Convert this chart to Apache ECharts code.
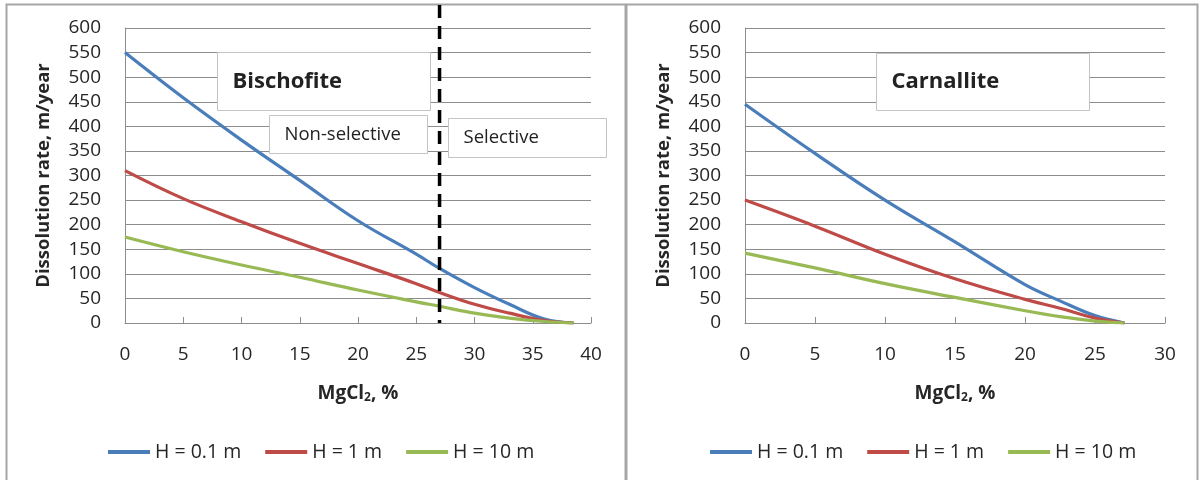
<!DOCTYPE html>
<html>
<head>
<meta charset="utf-8">
<script src="https://cdn.jsdelivr.net/npm/echarts@6/dist/echarts.min.js"></script>
<style>
  html, body { margin: 0; padding: 0; background: #fff; }
  #chart { width: 1199px; height: 480px; }
</style>
</head>
<body>
<div id="chart"></div>
<script>
// Bischofite (left panel)
const bisX = [0, 5, 10, 15, 20, 25, 27, 30, 33, 36, 38.5];
const bisH01 = [550, 458, 372, 290, 208, 140, 111, 72, 38, 8, 0];
const bisH1 = [310, 253, 206, 162, 121, 80, 62, 38, 20, 5, 0];
const bisH10 = [175, 145, 118, 93, 67, 43, 34, 20, 10, 3, 0];
const bisBoundary = 27; // non-selective / selective

// Carnallite (right panel)
const carX = [0, 5, 10, 15, 20, 22.5, 25, 27.1];
const carH01 = [445, 345, 250, 165, 78, 45, 15, 0];
const carH1 = [250, 197, 140, 90, 48, 30, 10, 0];
const carH10 = [142, 112, 80, 52, 25, 13, 4, 0];

const seriesNames = ["H = 0.1 m", "H = 1 m", "H = 10 m"];
const colors = ["#4A7EBB", "#BE4B48", "#98B954"];

const FONT = "'Open Sans', 'Liberation Sans', sans-serif";
const GRID_COLOR = "#8c8c8c";

const pairs = (xs, ys) => xs.map((x, i) => [x, ys[i]]);

const chart = echarts.init(document.getElementById("chart"));

const makeX = (gridIndex, max) => ({
  type: "value",
  gridIndex: gridIndex,
  min: 0,
  max: max,
  interval: 5,
  name: "MgCl{sub|2}, %",
  nameLocation: "middle",
  nameGap: 61,
  nameTextStyle: {
    fontFamily: FONT,
    fontSize: 19,
    fontWeight: "bold",
    color: "#262626",
    rich: {
      sub: { fontSize: 12, fontWeight: "bold", verticalAlign: "bottom", padding: [8, 0, 0, 0], fontFamily: FONT, color: "#262626" },
    },
  },
  axisLine: { lineStyle: { color: GRID_COLOR, width: 1 } },
  axisTick: { show: true, inside: true, length: 6, lineStyle: { color: GRID_COLOR } },
  axisLabel: { fontFamily: FONT, fontSize: 19, color: "#262626", margin: 22 },
  splitLine: { show: false },
});

const makeY = (gridIndex) => ({
  type: "value",
  gridIndex: gridIndex,
  min: 0,
  max: 600,
  interval: 50,
  name: "Dissolution rate, m/year",
  nameLocation: "middle",
  nameGap: 72,
  nameTextStyle: { fontFamily: FONT, fontSize: 18.5, fontWeight: "bold", color: "#262626" },
  axisLine: { show: true, lineStyle: { color: GRID_COLOR, width: 1 } },
  axisTick: { show: false },
  axisLabel: { fontFamily: FONT, fontSize: 19, color: "#262626", margin: 24 },
  splitLine: { lineStyle: { color: GRID_COLOR, width: 1 } },
});

const makeSeries = (idx, xs, ys, name, color) => ({
  name: name,
  type: "line",
  xAxisIndex: idx,
  yAxisIndex: idx,
  smooth: 0.4,
  symbol: "none",
  lineStyle: { color: color, width: 3.2 },
  itemStyle: { color: color },
  data: pairs(xs, ys),
  z: 3,
});

const makeLegend = (left) => ({
  left: left,
  top: 437,
  icon: "rect",
  itemWidth: 42,
  itemHeight: 4,
  itemGap: 24,
  data: seriesNames,
  textStyle: { fontFamily: FONT, fontSize: 19.5, color: "#262626" },
});

const textBox = (x, y, w, h, text, size, bold) => ({
  type: "group",
  left: x,
  top: y,
  z: 10,
  children: [
    {
      type: "rect",
      shape: { x: 0, y: 0, width: w, height: h },
      style: { fill: "#fff", stroke: "#c4c4c4", lineWidth: 1 },
    },
    {
      type: "text",
      x: 15,
      y: h / 2,
      style: {
        text: text,
        fontFamily: FONT,
        fontSize: size,
        fontWeight: bold ? "bold" : "normal",
        fill: "#222",
        verticalAlign: "middle",
      },
    },
  ],
});

chart.setOption({
  animation: false,
  backgroundColor: "#fff",
  grid: [
    { left: 125, right: 608, top: 28, bottom: 157 },
    { left: 745, right: 34, top: 28, bottom: 157 },
  ],
  xAxis: [makeX(0, 40), makeX(1, 30)],
  yAxis: [makeY(0), makeY(1)],
  legend: [makeLegend(103), makeLegend(705)],
  series: [
    makeSeries(0, bisX, bisH01, seriesNames[0], colors[0]),
    makeSeries(0, bisX, bisH1, seriesNames[1], colors[1]),
    makeSeries(0, bisX, bisH10, seriesNames[2], colors[2]),
    makeSeries(1, carX, carH01, seriesNames[0], colors[0]),
    makeSeries(1, carX, carH1, seriesNames[1], colors[1]),
    makeSeries(1, carX, carH10, seriesNames[2], colors[2]),
  ],
});

// boundary line position from the left panel's x scale
const bx = chart.convertToPixel({ xAxisIndex: 0 }, bisBoundary);
const by0 = chart.convertToPixel({ yAxisIndex: 0 }, 0);

chart.setOption({
  graphic: [
    // panel frames
    { type: "rect", shape: { x: 6.5, y: 4.5, width: 619, height: 480 }, style: { fill: "none", stroke: "#a6a6a6", lineWidth: 2 }, z: 0 },
    { type: "rect", shape: { x: 626.5, y: 4.5, width: 571, height: 480 }, style: { fill: "none", stroke: "#a6a6a6", lineWidth: 2 }, z: 0 },
    textBox(217, 52, 213, 58, "Bischofite", 22, true),
    textBox(269, 115, 158, 38, "Non-selective", 18.5, false),
    textBox(448, 118, 158, 39, "Selective", 18.5, false),
    textBox(876, 53, 213, 57, "Carnallite", 22, true),
    {
      type: "line",
      z: 20,
      shape: { x1: bx, y1: 5, x2: bx, y2: by0 },
      style: { stroke: "#000", lineWidth: 3.5, lineDash: [13, 8] },
    },
  ],
});
</script>
</body>
</html>
